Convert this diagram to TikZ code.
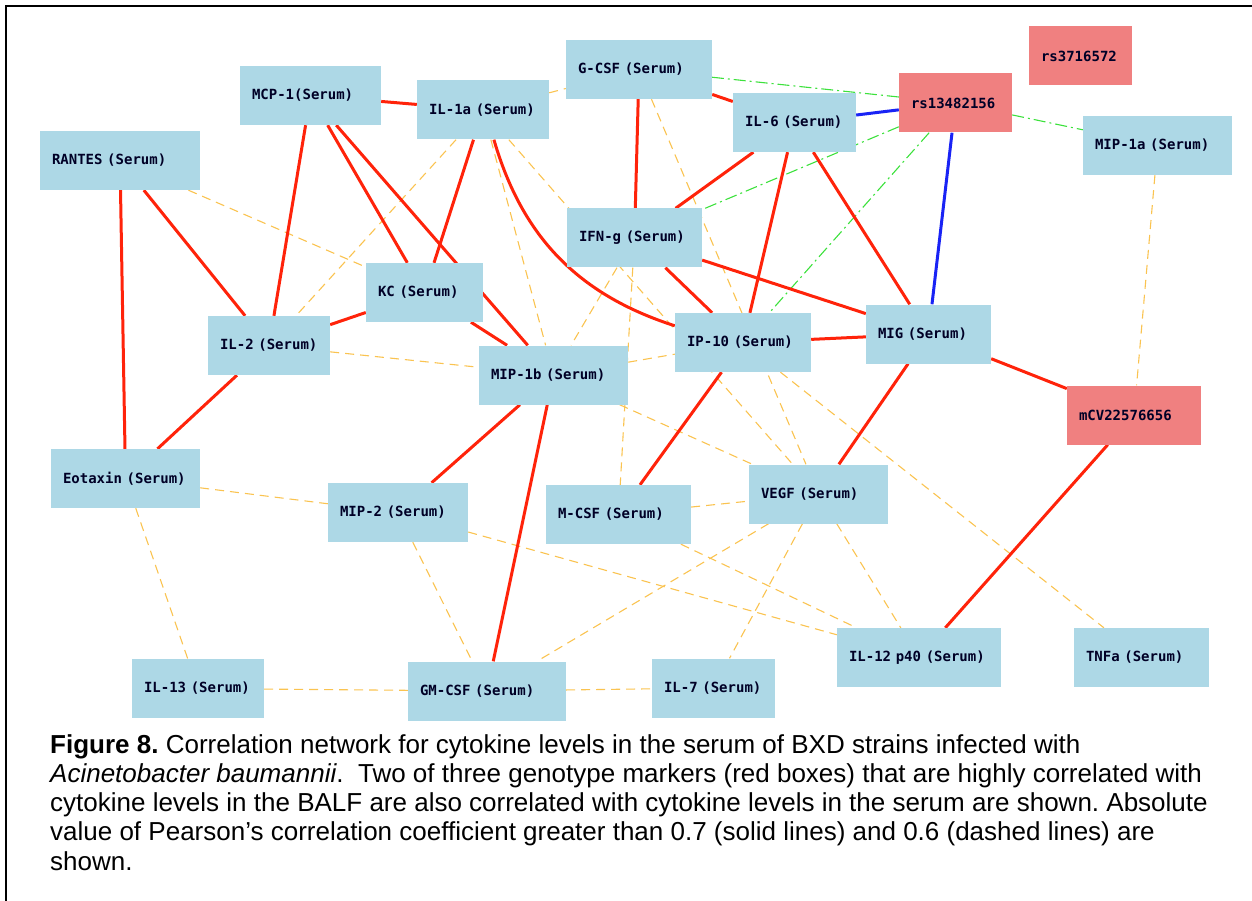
\documentclass[tikz,border=0pt]{standalone}
\usepackage{fontspec}
\newfontfamily\boxfont{DejaVu Sans Mono}
\newfontfamily\capfont{Liberation Sans}
\usetikzlibrary{backgrounds}

\definecolor{boxblue}{RGB}{173,216,230}
\definecolor{markerred}{RGB}{240,128,128}
\definecolor{corrred}{RGB}{255,35,10}
\definecolor{corrblue}{RGB}{25,35,245}
\definecolor{corrgreen}{RGB}{60,225,60}
\definecolor{corrorange}{RGB}{250,195,80}

\begin{document}
\begin{tikzpicture}[x=1pt, y=-1pt,
    cyto/.style={fill=boxblue, inner xsep=12pt, inner ysep=0pt, minimum height=59pt,
      text width=#1, align=left, text=black!85!blue,
      font=\boxfont\bfseries\fontsize{14}{16}\selectfont},
    marker/.style={cyto=#1, fill=markerred},
    strong/.style={line width=3pt, draw=corrred},
    markerstrong/.style={line width=3pt, draw=corrblue},
    weak/.style={line width=1.1pt, draw=corrorange, dash pattern=on 9pt off 6pt},
    markerweak/.style={line width=1.1pt, draw=corrgreen, dash pattern=on 12pt off 4pt on 2pt off 4pt}]
    \useasboundingbox (0,0) rectangle (1252,901);
    \draw[line width=1.8pt] (6,901) -- (6,6) -- (1252,6);

    \node (mcp) [cyto=117] at (310.5, 95.5) {MCP-1(Serum)};
    \node (ilonea) [cyto=108] at (483, 110) {IL-1a~(Serum)};
    \node (gcsf) [cyto=122] at (639, 69.5) {G-CSF~(Serum)};
    \node (ilsix) [cyto=99] at (794.5, 122.5) {IL-6~(Serum)};
    \node (rsa) [marker=89] at (955.5, 103) {rs13482156};
    \node (rsb) [marker=79] at (1080.5, 56) {rs3716572};
    \node (mipa) [cyto=125] at (1157.5, 145.5) {MIP-1a~(Serum)};

    \node (rantes) [cyto=136] at (120, 160.5) {RANTES~(Serum)};
    \node (ifng) [cyto=111] at (634.5, 238) {IFN-g~(Serum)};
    \node (kc) [cyto=93] at (424.5, 292.5) {KC~(Serum)};
    \node (iltwo) [cyto=98] at (269, 345.5) {IL-2~(Serum)};
    \node (ipten) [cyto=112] at (743, 342.5) {IP-10~(Serum)};
    \node (mig) [cyto=101] at (928.5, 334) {MIG~(Serum)};
    \node (mipb) [cyto=125] at (553.5, 375) {MIP-1b~(Serum)};
    \node (mcv) [marker=110] at (1134, 415) {mCV22576656};

    \node (eotaxin) [cyto=125] at (125.5, 478.5) {Eotaxin~(Serum)};
    \node (miptwo) [cyto=116] at (398, 512.5) {MIP-2~(Serum)};
    \node (mcsf) [cyto=121] at (618.5, 514.5) {M-CSF~(Serum)};
    \node (vegf) [cyto=115] at (818.5, 494) {VEGF~(Serum)};

    \node (ilthirteen) [cyto=108] at (198, 688.5) {IL-13~(Serum)};
    \node (gmcsf) [cyto=134] at (487, 691) {GM-CSF~(Serum)};
    \node (ilseven) [cyto=99] at (713.5, 688) {IL-7~(Serum)};
    \node (iltwelve) [cyto=140] at (919, 657.5) {IL-12~p40~(Serum)};
    \node (tnfa) [cyto=111] at (1141.5, 657.5) {TNFa~(Serum)};

    \begin{pgfonlayer}{background}
      % |r| > 0.6
      \path[weak]
      (ilonea) edge (gcsf) edge (iltwo) edge (mipb) edge (vegf)
      (rantes) edge (kc)
      (iltwo) edge (mipb)
      (gcsf) edge (vegf)
      (ifng) edge (mipb) edge (mcsf)
      (mipb) edge (ipten) edge (vegf)
      (mcsf) edge (vegf) edge (iltwelve)
      (eotaxin) edge (miptwo) edge (ilthirteen)
      (ilthirteen) edge (gmcsf)
      (gmcsf) edge (ilseven)
      (miptwo) edge (gmcsf) edge (iltwelve)
      (vegf) edge (gmcsf) edge (ilseven) edge (iltwelve)
      (mipa) edge (mcv)
      (ipten) edge (tnfa)
      ;
      \path[markerweak]
      (rsa) edge (gcsf) edge (mipa) edge (ifng) edge (ipten)
      ;
      % |r| > 0.7
      \path[strong]
      (mcp) edge (ilonea) edge (iltwo) edge (kc) edge (mipb)
      (ilonea) edge (kc) edge[bend right=28] (ipten)
      (gcsf) edge (ifng) edge (ilsix)
      (ilsix) edge (ifng) edge (ipten) edge (mig)
      (ifng) edge (mig) edge (ipten)
      (ipten) edge (mig) edge (mcsf)
      (mig) edge (mcv) edge (vegf)
      (kc) edge (iltwo) edge (mipb)
      (rantes) edge (eotaxin) edge (iltwo)
      (iltwo) edge (eotaxin)
      (mipb) edge (miptwo) edge (gmcsf)
      (mcv) edge (iltwelve)
      ;
      \path[markerstrong]
      (rsa) edge (ilsix) edge (mig)
      ;
    \end{pgfonlayer}

    \node (caption) [anchor=north west, inner sep=0pt, align=left,
      font=\capfont\fontsize{26}{29.3}\selectfont\frenchspacing] at (50, 734)
      {\textbf{Figure 8.} Correlation network for cytokine levels in the serum of BXD strains infected with\\
       \textit{Acinetobacter baumannii}. \ Two of three genotype markers (red boxes) that are highly correlated with\\
       cytokine levels in the BALF are also correlated with cytokine levels in the serum are shown. Absolute\\
       value of Pearson’s correlation coefficient greater than 0.7 (solid lines) and 0.6 (dashed lines) are\\
       shown.};
\end{tikzpicture}
\end{document}
